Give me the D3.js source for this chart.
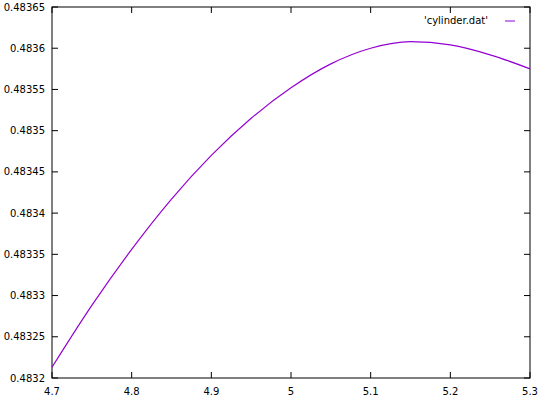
<!DOCTYPE html>
<html><head><meta charset="utf-8">
<script src="https://cdn.jsdelivr.net/npm/d3@7"></script>
<style>body{margin:0;background:#fff}text{font-family:"DejaVu Sans",sans-serif;font-size:10px}</style>
</head><body><svg id="c" width="540" height="407"></svg>
<script>
// values
const xs = [4.7, 4.75, 4.8, 4.85, 4.9, 4.95, 5.0, 5.05, 5.1, 5.15, 5.2, 5.25, 5.3];
const ys = [0.483213, 0.483288, 0.483356, 0.483417, 0.483470, 0.483515, 0.483552, 0.483581, 0.483600, 0.483608, 0.483604, 0.483592, 0.483575];
const xTicks = [4.7, 4.8, 4.9, 5, 5.1, 5.2, 5.3];
const yTicks = [0.4832, 0.48325, 0.4833, 0.48335, 0.4834, 0.48345, 0.4835, 0.48355, 0.4836, 0.48365];

const m = {l: 52, r: 10, t: 7, b: 29};
const W = 540, H = 407;
const svg = d3.select("#c");
const x = d3.scaleLinear().domain([4.7, 5.3]).range([m.l, W - m.r]);
const y = d3.scaleLinear().domain([0.4832, 0.48365]).range([H - m.b, m.t]);

// frame
svg.append("rect").attr("x", m.l).attr("y", m.t)
  .attr("width", W - m.r - m.l).attr("height", H - m.b - m.t)
  .attr("fill", "none").attr("stroke", "#000");

// ticks on all four sides, gnuplot style
xTicks.forEach(v => {
  svg.append("line").attr("x1", x(v)).attr("x2", x(v)).attr("y1", H - m.b).attr("y2", H - m.b - 6).attr("stroke", "#000");
  svg.append("line").attr("x1", x(v)).attr("x2", x(v)).attr("y1", m.t).attr("y2", m.t + 6).attr("stroke", "#000");
  svg.append("text").attr("x", x(v)).attr("y", H - m.b + 17).attr("text-anchor", "middle").text(v);
});
yTicks.forEach(v => {
  svg.append("line").attr("x1", m.l).attr("x2", m.l + 6).attr("y1", y(v)).attr("y2", y(v)).attr("stroke", "#000");
  svg.append("line").attr("x1", W - m.r).attr("x2", W - m.r - 6).attr("y1", y(v)).attr("y2", y(v)).attr("stroke", "#000");
  svg.append("text").attr("x", m.l - 7).attr("y", y(v) + 3.5).attr("text-anchor", "end").text(v);
});

const pts = xs.map((d, i) => [d, ys[i]]);
svg.append("path").datum(pts)
  .attr("d", d3.line().x(d => x(d[0])).y(d => y(d[1])).curve(d3.curveMonotoneX))
  .attr("fill", "none").attr("stroke", "#9400d3").attr("stroke-width", 1.2);

// legend
svg.append("text").attr("x", 488).attr("y", 24).attr("text-anchor", "end").text("'cylinder.dat'");
svg.append("line").attr("x1", 505).attr("x2", 515).attr("y1", 21).attr("y2", 21).attr("stroke", "#9400d3");
</script></body></html>
